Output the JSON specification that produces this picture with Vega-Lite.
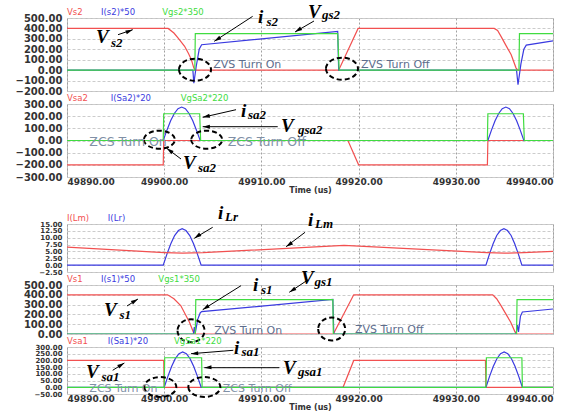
{
"$schema":"https://vega.github.io/schema/vega-lite/v6.json",
"background":"white",
"padding":{"left":14,"top":2,"right":0,"bottom":0},
"config":{
 "view":{"stroke":"#c0c0c0","strokeWidth":1},
 "axis":{"labelFont":"DejaVu Sans","labelFontWeight":"bold","labelFontSize":10,"labelColor":"#333333","ticks":false,"domain":false,"labelPadding":5,"titleFont":"DejaVu Sans","titleFontSize":8,"titleFontWeight":"bold","titleColor":"#333333"},
 "axisY":{"gridColor":"#cccccc","gridDash":[3,2]},
 "axisX":{"gridColor":"#a0a0a0","gridDash":[2,2]}
},
"datasets":{
"lines":[
{"p":1,"s":"Vs2","t":49890,"v":400},{"p":1,"s":"Vs2","t":49900.4,"v":400},{"p":1,"s":"Vs2","t":49901.0,"v":356},{"p":1,"s":"Vs2","t":49901.5,"v":300},{"p":1,"s":"Vs2","t":49902.1,"v":229},{"p":1,"s":"Vs2","t":49902.5,"v":160},{"p":1,"s":"Vs2","t":49902.8,"v":100},{"p":1,"s":"Vs2","t":49903.05,"v":20},{"p":1,"s":"Vs2","t":49903.2,"v":0},{"p":1,"s":"Vs2","t":49917.95,"v":0},{"p":1,"s":"Vs2","t":49919.95,"v":400},{"p":1,"s":"Vs2","t":49933.95,"v":400},{"p":1,"s":"Vs2","t":49934.3,"v":380},{"p":1,"s":"Vs2","t":49934.65,"v":324},{"p":1,"s":"Vs2","t":49935.2,"v":230},{"p":1,"s":"Vs2","t":49935.7,"v":148},{"p":1,"s":"Vs2","t":49936.2,"v":20},{"p":1,"s":"Vs2","t":49936.4,"v":0},{"p":1,"s":"Vs2","t":49940,"v":0},
{"p":1,"s":"I(s2)*50","t":49890,"v":0},{"p":1,"s":"I(s2)*50","t":49902.95,"v":0},{"p":1,"s":"I(s2)*50","t":49903.05,"v":-125},{"p":1,"s":"I(s2)*50","t":49903.3,"v":40},{"p":1,"s":"I(s2)*50","t":49903.6,"v":200},{"p":1,"s":"I(s2)*50","t":49903.85,"v":244},{"p":1,"s":"I(s2)*50","t":49917.85,"v":372},{"p":1,"s":"I(s2)*50","t":49917.95,"v":0},{"p":1,"s":"I(s2)*50","t":49936.25,"v":0},{"p":1,"s":"I(s2)*50","t":49936.4,"v":-140},{"p":1,"s":"I(s2)*50","t":49936.7,"v":60},{"p":1,"s":"I(s2)*50","t":49937.0,"v":200},{"p":1,"s":"I(s2)*50","t":49937.25,"v":240},{"p":1,"s":"I(s2)*50","t":49940,"v":280},
{"p":1,"s":"Vgs2*350","t":49890,"v":0},{"p":1,"s":"Vgs2*350","t":49903.15,"v":0},{"p":1,"s":"Vgs2*350","t":49903.2,"v":350},{"p":1,"s":"Vgs2*350","t":49917.85,"v":350},{"p":1,"s":"Vgs2*350","t":49918.0,"v":0},{"p":1,"s":"Vgs2*350","t":49936.5,"v":0},{"p":1,"s":"Vgs2*350","t":49936.55,"v":350},{"p":1,"s":"Vgs2*350","t":49940,"v":350},
{"p":2,"s":"Vsa2","t":49890,"v":-200},{"p":2,"s":"Vsa2","t":49899.9,"v":-200},{"p":2,"s":"Vsa2","t":49899.95,"v":0},{"p":2,"s":"Vsa2","t":49918.9,"v":0},{"p":2,"s":"Vsa2","t":49920.0,"v":-200},{"p":2,"s":"Vsa2","t":49933.25,"v":-200},{"p":2,"s":"Vsa2","t":49933.3,"v":0},{"p":2,"s":"Vsa2","t":49940,"v":0},
{"p":2,"s":"I(Sa2)*20","t":49890,"v":0},{"p":2,"s":"I(Sa2)*20","t":49899.9,"v":0},{"p":2,"s":"I(Sa2)*20","t":49900.28,"v":85},{"p":2,"s":"I(Sa2)*20","t":49900.66,"v":162},{"p":2,"s":"I(Sa2)*20","t":49901.04,"v":222},{"p":2,"s":"I(Sa2)*20","t":49901.42,"v":262},{"p":2,"s":"I(Sa2)*20","t":49901.8,"v":275},{"p":2,"s":"I(Sa2)*20","t":49902.18,"v":262},{"p":2,"s":"I(Sa2)*20","t":49902.56,"v":222},{"p":2,"s":"I(Sa2)*20","t":49902.94,"v":162},{"p":2,"s":"I(Sa2)*20","t":49903.32,"v":85},{"p":2,"s":"I(Sa2)*20","t":49903.7,"v":0},{"p":2,"s":"I(Sa2)*20","t":49933.3,"v":0},{"p":2,"s":"I(Sa2)*20","t":49933.67,"v":85},{"p":2,"s":"I(Sa2)*20","t":49934.04,"v":162},{"p":2,"s":"I(Sa2)*20","t":49934.41,"v":222},{"p":2,"s":"I(Sa2)*20","t":49934.78,"v":262},{"p":2,"s":"I(Sa2)*20","t":49935.15,"v":275},{"p":2,"s":"I(Sa2)*20","t":49935.52,"v":262},{"p":2,"s":"I(Sa2)*20","t":49935.89,"v":222},{"p":2,"s":"I(Sa2)*20","t":49936.26,"v":162},{"p":2,"s":"I(Sa2)*20","t":49936.63,"v":85},{"p":2,"s":"I(Sa2)*20","t":49937.0,"v":0},{"p":2,"s":"I(Sa2)*20","t":49940,"v":0},
{"p":2,"s":"VgSa2*220","t":49890,"v":0},{"p":2,"s":"VgSa2*220","t":49899.9,"v":0},{"p":2,"s":"VgSa2*220","t":49899.95,"v":220},{"p":2,"s":"VgSa2*220","t":49903.65,"v":220},{"p":2,"s":"VgSa2*220","t":49903.75,"v":0},{"p":2,"s":"VgSa2*220","t":49933.25,"v":0},{"p":2,"s":"VgSa2*220","t":49933.3,"v":220},{"p":2,"s":"VgSa2*220","t":49936.95,"v":220},{"p":2,"s":"VgSa2*220","t":49937.05,"v":0},{"p":2,"s":"VgSa2*220","t":49940,"v":0},
{"p":3,"s":"I(Lr)","t":49890,"v":0},{"p":3,"s":"I(Lr)","t":49899.9,"v":0},{"p":3,"s":"I(Lr)","t":49900.29,"v":4.1},{"p":3,"s":"I(Lr)","t":49900.68,"v":7.8},{"p":3,"s":"I(Lr)","t":49901.07,"v":10.8},{"p":3,"s":"I(Lr)","t":49901.46,"v":12.6},{"p":3,"s":"I(Lr)","t":49901.85,"v":13.3},{"p":3,"s":"I(Lr)","t":49902.24,"v":12.6},{"p":3,"s":"I(Lr)","t":49902.63,"v":10.8},{"p":3,"s":"I(Lr)","t":49903.02,"v":7.8},{"p":3,"s":"I(Lr)","t":49903.41,"v":4.1},{"p":3,"s":"I(Lr)","t":49903.8,"v":0},{"p":3,"s":"I(Lr)","t":49933.1,"v":0},{"p":3,"s":"I(Lr)","t":49933.47,"v":4.1},{"p":3,"s":"I(Lr)","t":49933.84,"v":7.8},{"p":3,"s":"I(Lr)","t":49934.21,"v":10.8},{"p":3,"s":"I(Lr)","t":49934.58,"v":12.6},{"p":3,"s":"I(Lr)","t":49934.95,"v":13.3},{"p":3,"s":"I(Lr)","t":49935.32,"v":12.6},{"p":3,"s":"I(Lr)","t":49935.69,"v":10.8},{"p":3,"s":"I(Lr)","t":49936.06,"v":7.8},{"p":3,"s":"I(Lr)","t":49936.43,"v":4.1},{"p":3,"s":"I(Lr)","t":49936.8,"v":0},{"p":3,"s":"I(Lr)","t":49940,"v":0},
{"p":3,"s":"I(Lm)","t":49890,"v":6.6},{"p":3,"s":"I(Lm)","t":49900,"v":4.6},{"p":3,"s":"I(Lm)","t":49901.9,"v":4.35},{"p":3,"s":"I(Lm)","t":49904,"v":4.55},{"p":3,"s":"I(Lm)","t":49918.5,"v":7.2},{"p":3,"s":"I(Lm)","t":49933.2,"v":4.6},{"p":3,"s":"I(Lm)","t":49935,"v":4.35},{"p":3,"s":"I(Lm)","t":49937,"v":4.55},{"p":3,"s":"I(Lm)","t":49940,"v":5.0},
{"p":4,"s":"Vs1","t":49890,"v":400},{"p":4,"s":"Vs1","t":49900.35,"v":400},{"p":4,"s":"Vs1","t":49901.0,"v":360},{"p":4,"s":"Vs1","t":49901.7,"v":290},{"p":4,"s":"Vs1","t":49902.6,"v":120},{"p":4,"s":"Vs1","t":49903.0,"v":20},{"p":4,"s":"Vs1","t":49903.2,"v":0},{"p":4,"s":"Vs1","t":49917.4,"v":0},{"p":4,"s":"Vs1","t":49919.5,"v":400},{"p":4,"s":"Vs1","t":49933.8,"v":400},{"p":4,"s":"Vs1","t":49934.2,"v":360},{"p":4,"s":"Vs1","t":49934.65,"v":290},{"p":4,"s":"Vs1","t":49935.65,"v":120},{"p":4,"s":"Vs1","t":49936.1,"v":20},{"p":4,"s":"Vs1","t":49936.3,"v":0},{"p":4,"s":"Vs1","t":49940,"v":0},
{"p":4,"s":"I(s1)*50","t":49890,"v":0},{"p":4,"s":"I(s1)*50","t":49903.0,"v":0},{"p":4,"s":"I(s1)*50","t":49903.1,"v":70},{"p":4,"s":"I(s1)*50","t":49903.2,"v":10},{"p":4,"s":"I(s1)*50","t":49903.45,"v":150},{"p":4,"s":"I(s1)*50","t":49903.7,"v":215},{"p":4,"s":"I(s1)*50","t":49903.85,"v":228},{"p":4,"s":"I(s1)*50","t":49917.35,"v":352},{"p":4,"s":"I(s1)*50","t":49917.45,"v":0},{"p":4,"s":"I(s1)*50","t":49936.2,"v":0},{"p":4,"s":"I(s1)*50","t":49936.35,"v":90},{"p":4,"s":"I(s1)*50","t":49936.45,"v":20},{"p":4,"s":"I(s1)*50","t":49936.65,"v":180},{"p":4,"s":"I(s1)*50","t":49936.85,"v":225},{"p":4,"s":"I(s1)*50","t":49940,"v":255},
{"p":4,"s":"Vgs1*350","t":49890,"v":0},{"p":4,"s":"Vgs1*350","t":49903.2,"v":0},{"p":4,"s":"Vgs1*350","t":49903.25,"v":350},{"p":4,"s":"Vgs1*350","t":49917.35,"v":350},{"p":4,"s":"Vgs1*350","t":49917.4,"v":0},{"p":4,"s":"Vgs1*350","t":49936.25,"v":0},{"p":4,"s":"Vgs1*350","t":49936.3,"v":350},{"p":4,"s":"Vgs1*350","t":49940,"v":350},
{"p":5,"s":"Vsa1","t":49890,"v":200},{"p":5,"s":"Vsa1","t":49899.95,"v":200},{"p":5,"s":"Vsa1","t":49900.0,"v":0},{"p":5,"s":"Vsa1","t":49918.4,"v":0},{"p":5,"s":"Vsa1","t":49919.5,"v":200},{"p":5,"s":"Vsa1","t":49933.05,"v":200},{"p":5,"s":"Vsa1","t":49933.1,"v":0},{"p":5,"s":"Vsa1","t":49940,"v":0},
{"p":5,"s":"I(Sa1)*20","t":49890,"v":0},{"p":5,"s":"I(Sa1)*20","t":49900,"v":0},{"p":5,"s":"I(Sa1)*20","t":49900.38,"v":81},{"p":5,"s":"I(Sa1)*20","t":49900.76,"v":155},{"p":5,"s":"I(Sa1)*20","t":49901.14,"v":213},{"p":5,"s":"I(Sa1)*20","t":49901.52,"v":250},{"p":5,"s":"I(Sa1)*20","t":49901.9,"v":263},{"p":5,"s":"I(Sa1)*20","t":49902.28,"v":250},{"p":5,"s":"I(Sa1)*20","t":49902.66,"v":213},{"p":5,"s":"I(Sa1)*20","t":49903.04,"v":155},{"p":5,"s":"I(Sa1)*20","t":49903.42,"v":81},{"p":5,"s":"I(Sa1)*20","t":49903.8,"v":0},{"p":5,"s":"I(Sa1)*20","t":49933.1,"v":0},{"p":5,"s":"I(Sa1)*20","t":49933.475,"v":81},{"p":5,"s":"I(Sa1)*20","t":49933.85,"v":155},{"p":5,"s":"I(Sa1)*20","t":49934.225,"v":213},{"p":5,"s":"I(Sa1)*20","t":49934.6,"v":250},{"p":5,"s":"I(Sa1)*20","t":49934.975,"v":263},{"p":5,"s":"I(Sa1)*20","t":49935.35,"v":250},{"p":5,"s":"I(Sa1)*20","t":49935.725,"v":213},{"p":5,"s":"I(Sa1)*20","t":49936.1,"v":155},{"p":5,"s":"I(Sa1)*20","t":49936.475,"v":81},{"p":5,"s":"I(Sa1)*20","t":49936.85,"v":0},{"p":5,"s":"I(Sa1)*20","t":49940,"v":0},
{"p":5,"s":"VgSa1*220","t":49890,"v":0},{"p":5,"s":"VgSa1*220","t":49900.0,"v":0},{"p":5,"s":"VgSa1*220","t":49900.05,"v":220},{"p":5,"s":"VgSa1*220","t":49903.85,"v":220},{"p":5,"s":"VgSa1*220","t":49903.9,"v":0},{"p":5,"s":"VgSa1*220","t":49933.1,"v":0},{"p":5,"s":"VgSa1*220","t":49933.15,"v":220},{"p":5,"s":"VgSa1*220","t":49936.8,"v":220},{"p":5,"s":"VgSa1*220","t":49936.85,"v":0},{"p":5,"s":"VgSa1*220","t":49940,"v":0}
],
"names":[
{"p":1,"s":"Vs2","t":49890,"v":500},{"p":1,"s":"I(s2)*50","t":49893.5,"v":500},{"p":1,"s":"Vgs2*350","t":49899.8,"v":500},
{"p":2,"s":"Vsa2","t":49890,"v":300},{"p":2,"s":"I(Sa2)*20","t":49894.5,"v":300},{"p":2,"s":"VgSa2*220","t":49901.7,"v":300},
{"p":3,"s":"I(Lm)","t":49890,"v":15},{"p":3,"s":"I(Lr)","t":49894.2,"v":15},
{"p":4,"s":"Vs1","t":49890,"v":500},{"p":4,"s":"I(s1)*50","t":49893.5,"v":500},{"p":4,"s":"Vgs1*350","t":49899.4,"v":500},
{"p":5,"s":"Vsa1","t":49890,"v":300},{"p":5,"s":"I(Sa1)*20","t":49894.2,"v":300},{"p":5,"s":"VgSa1*220","t":49901.0,"v":300}
],
"circles":[
{"p":1,"t":49903.17,"v":4.3},{"p":1,"t":49918.29,"v":14},
{"p":2,"t":49899.5,"v":6.6},{"p":2,"t":49904.37,"v":6.6},
{"p":4,"t":49902.76,"v":33.7},{"p":4,"t":49917.23,"v":51},
{"p":5,"t":49899.6,"v":2.1},{"p":5,"t":49904.13,"v":2.1}
],
"arrows":[
{"p":1,"t2":49895.25,"v2":339.9,"t":49896.76,"v":387.8,"dir":"ur"},{"p":1,"t2":49909.1,"v2":516,"t":49905.15,"v":276.6,"dir":"dl"},{"p":1,"t2":49915.41,"v2":471.2,"t":49913.46,"v":365.8,"dir":"dl"},
{"p":2,"t2":49907.39,"v2":253.2,"t":49903.96,"v":190.7,"dir":"dll"},{"p":2,"t2":49911.68,"v2":113.4,"t":49903.96,"v":113.4,"dir":"l"},{"p":2,"t2":49901.73,"v2":-152,"t":49900.26,"v":-64.1,"dir":"ul"},
{"p":3,"t2":49904.99,"v2":13.8,"t":49903.1,"v":9.79,"dir":"dl"},{"p":3,"t2":49914.49,"v2":11.97,"t":49912.53,"v":6.72,"dir":"dl"},
{"p":4,"t2":49896.17,"v2":285.7,"t":49897.3,"v":357.1,"dir":"ur"},{"p":4,"t2":49907.9,"v2":492.9,"t":49903.96,"v":248,"dir":"dl"},{"p":4,"t2":49914.76,"v2":551,"t":49912.87,"v":425.5,"dir":"dl"},
{"p":5,"t2":49907.11,"v2":275.4,"t":49902.76,"v":250.1,"dir":"l"},{"p":5,"t2":49911.84,"v2":145.9,"t":49904.13,"v":145.9,"dir":"l"},{"p":5,"t2":49894.7,"v2":126.5,"t":49895.9,"v":180.8,"dir":"ur"}
],
"mainlab":[
{"p":1,"txt":"V","t":49892.98,"v":260.3},{"p":1,"txt":"i","t":49909.65,"v":452},{"p":1,"txt":"V","t":49914.79,"v":500},
{"p":2,"txt":"i","t":49907.9,"v":193.2},{"p":2,"txt":"V","t":49912.02,"v":69.9},{"p":2,"txt":"V","t":49901.93,"v":-234.2},
{"p":3,"txt":"i","t":49905.53,"v":16.82},{"p":3,"txt":"i","t":49914.79,"v":14.38},
{"p":4,"txt":"V","t":49893.81,"v":186.7},{"p":4,"txt":"i","t":49909.14,"v":441.8},{"p":4,"txt":"V","t":49914.07,"v":510.2},
{"p":5,"txt":"i","t":49907.18,"v":250.1},{"p":5,"txt":"V","t":49912.22,"v":101.2},{"p":5,"txt":"V","t":49891.95,"v":66}
],
"sublab":[
{"p":1,"txt":"s2","t":49894.53,"v":221.9},{"p":1,"txt":"s2","t":49910.52,"v":423.3},{"p":1,"txt":"gs2","t":49916.23,"v":490.4},
{"p":2,"txt":"sa2","t":49908.62,"v":176.7},{"p":2,"txt":"gsa2","t":49913.77,"v":53.4},{"p":2,"txt":"sa2","t":49903.48,"v":-258.9},
{"p":3,"txt":"Lr","t":49906.26,"v":16.09},{"p":3,"txt":"Lm","t":49915.51,"v":13.54},
{"p":4,"txt":"s1","t":49895.4,"v":153.1},{"p":4,"txt":"s1","t":49909.96,"v":408.2},{"p":4,"txt":"gs1","t":49915.46,"v":484.7},
{"p":5,"txt":"sa1","t":49907.95,"v":233},{"p":5,"txt":"gsa1","t":49913.77,"v":84},{"p":5,"txt":"sa1","t":49893.55,"v":50}
],
"notes":[
{"p":1,"txt":"ZVS Turn On","t":49905.05,"v":52},{"p":1,"txt":"ZVS Turn Off","t":49920.25,"v":52},
{"p":2,"txt":"ZCS Turn On","t":49892.3,"v":-14.8},{"p":2,"txt":"ZCS Turn Off","t":49906.53,"v":-14.8},
{"p":4,"txt":"ZVS Turn On","t":49905.15,"v":33.7},{"p":4,"txt":"ZVS Turn Off","t":49919.63,"v":40.8},
{"p":5,"txt":"ZCS Turn On","t":49892.3,"v":-12},{"p":5,"txt":"ZCS Turn Off","t":49906.02,"v":-12}
]
},
"vconcat":[
{"width":486,"height":73,
 "encoding":{"x":{"field":"t","type":"quantitative","scale":{"domain":[49890,49940],"nice":false,"zero":false},"axis":{"values":[49890,49900,49910,49920,49930,49940],"labels":false,"title":null}},
  "y":{"field":"v","type":"quantitative","scale":{"domain":[-200,500],"nice":false,"zero":false},"axis":{"values":[-200,-100,0,100,200,300,400,500],"format":".2f","title":null,"labelOverlap":false}}},
 "layer":[
  {"data":{"name":"lines"},"transform":[{"filter":"datum.p==1"}],"mark":{"type":"line","strokeWidth":1.2,"clip":true},"encoding":{"color":{"field":"s","type":"nominal","legend":null,"scale":{"domain":["Vs2","I(s2)*50","Vgs2*350","Vsa2","I(Sa2)*20","VgSa2*220","I(Lm)","I(Lr)","Vs1","I(s1)*50","Vgs1*350","Vsa1","I(Sa1)*20","VgSa1*220"],"range":["#f25050","#3a3ae0","#40dc40","#f25050","#3a3ae0","#40dc40","#f25050","#3a3ae0","#f25050","#3a3ae0","#40dc40","#f25050","#3a3ae0","#40dc40"]}}}},
  {"data":{"name":"names"},"transform":[{"filter":"datum.p==1"}],"mark":{"type":"text","align":"left","baseline":"bottom","dy":-1,"font":"DejaVu Sans","fontSize":8.5},"encoding":{"text":{"field":"s"},"color":{"field":"s","type":"nominal","legend":null,"scale":{"domain":["Vs2","I(s2)*50","Vgs2*350","Vsa2","I(Sa2)*20","VgSa2*220","I(Lm)","I(Lr)","Vs1","I(s1)*50","Vgs1*350","Vsa1","I(Sa1)*20","VgSa1*220"],"range":["#f25050","#3a3ae0","#40dc40","#f25050","#3a3ae0","#40dc40","#f25050","#3a3ae0","#f25050","#3a3ae0","#40dc40","#f25050","#3a3ae0","#40dc40"]}}}},
  {"data":{"name":"circles"},"transform":[{"filter":"datum.p==1"}],"mark":{"type":"point","shape":"M-1,0A1,0.69,0,1,0,1,0A1,0.69,0,1,0,-1,0Z","size":1024,"filled":false,"stroke":"black","strokeWidth":2,"strokeDash":[5,3],"opacity":1}},
  {"data":{"name":"arrows"},"transform":[{"filter":"datum.p==1"}],"mark":{"type":"rule","color":"black","strokeWidth":1},"encoding":{"x2":{"field":"t2"},"y2":{"field":"v2"}}},
  {"data":{"name":"arrows"},"transform":[{"filter":"datum.p==1 && datum.dir=='ur'"}],"mark":{"type":"point","shape":"M0,0L-0.45,1.6L0.45,1.6Z","size":80,"filled":true,"color":"black","opacity":1,"angle":68}},
  {"data":{"name":"arrows"},"transform":[{"filter":"datum.p==1 && datum.dir=='dl'"}],"mark":{"type":"point","shape":"M0,0L-0.45,1.6L0.45,1.6Z","size":80,"filled":true,"color":"black","opacity":1,"angle":238}},
  {"data":{"name":"mainlab"},"transform":[{"filter":"datum.p==1"}],"mark":{"type":"text","align":"left","baseline":"alphabetic","font":"Liberation Serif","fontStyle":"italic","fontWeight":"bold","fontSize":19,"color":"black"},"encoding":{"text":{"field":"txt"}}},
  {"data":{"name":"sublab"},"transform":[{"filter":"datum.p==1"}],"mark":{"type":"text","align":"left","baseline":"alphabetic","font":"Liberation Serif","fontStyle":"italic","fontWeight":"bold","fontSize":13,"color":"black"},"encoding":{"text":{"field":"txt"}}},
  {"data":{"name":"notes"},"transform":[{"filter":"datum.p==1"}],"mark":{"type":"text","align":"left","baseline":"middle","font":"DejaVu Sans","fontSize":11,"color":"#5d6d8d"},"encoding":{"text":{"field":"txt"}}}
 ]},
{"width":486,"height":73,
 "encoding":{"x":{"field":"t","type":"quantitative","scale":{"domain":[49890,49940],"nice":false,"zero":false},"axis":{"values":[49890,49900,49910,49920,49930,49940],"format":".2f","labelPadding":0,"labelFontSize":9,"title":"Time (us)","titlePadding":0,"labelOverlap":false}},
  "y":{"field":"v","type":"quantitative","scale":{"domain":[-300,300],"nice":false,"zero":false},"axis":{"values":[-300,-200,-100,0,100,200,300],"format":".2f","title":null,"labelOverlap":false}}},
 "layer":[
  {"data":{"name":"lines"},"transform":[{"filter":"datum.p==2"}],"mark":{"type":"line","strokeWidth":1.2,"clip":true},"encoding":{"color":{"field":"s","type":"nominal","legend":null,"scale":{"domain":["Vs2","I(s2)*50","Vgs2*350","Vsa2","I(Sa2)*20","VgSa2*220","I(Lm)","I(Lr)","Vs1","I(s1)*50","Vgs1*350","Vsa1","I(Sa1)*20","VgSa1*220"],"range":["#f25050","#3a3ae0","#40dc40","#f25050","#3a3ae0","#40dc40","#f25050","#3a3ae0","#f25050","#3a3ae0","#40dc40","#f25050","#3a3ae0","#40dc40"]}}}},
  {"data":{"name":"names"},"transform":[{"filter":"datum.p==2"}],"mark":{"type":"text","align":"left","baseline":"bottom","dy":-1,"font":"DejaVu Sans","fontSize":8.5},"encoding":{"text":{"field":"s"},"color":{"field":"s","type":"nominal","legend":null,"scale":{"domain":["Vs2","I(s2)*50","Vgs2*350","Vsa2","I(Sa2)*20","VgSa2*220","I(Lm)","I(Lr)","Vs1","I(s1)*50","Vgs1*350","Vsa1","I(Sa1)*20","VgSa1*220"],"range":["#f25050","#3a3ae0","#40dc40","#f25050","#3a3ae0","#40dc40","#f25050","#3a3ae0","#f25050","#3a3ae0","#40dc40","#f25050","#3a3ae0","#40dc40"]}}}},
  {"data":{"name":"circles"},"transform":[{"filter":"datum.p==2"}],"mark":{"type":"point","shape":"M-1,0A1,0.58,0,1,0,1,0A1,0.58,0,1,0,-1,0Z","size":961,"filled":false,"stroke":"black","strokeWidth":2,"strokeDash":[5,3],"opacity":1}},
  {"data":{"name":"arrows"},"transform":[{"filter":"datum.p==2"}],"mark":{"type":"rule","color":"black","strokeWidth":1},"encoding":{"x2":{"field":"t2"},"y2":{"field":"v2"}}},
  {"data":{"name":"arrows"},"transform":[{"filter":"datum.p==2 && datum.dir=='dll'"}],"mark":{"type":"point","shape":"M0,0L-0.45,1.6L0.45,1.6Z","size":80,"filled":true,"color":"black","opacity":1,"angle":257}},
  {"data":{"name":"arrows"},"transform":[{"filter":"datum.p==2 && datum.dir=='l'"}],"mark":{"type":"point","shape":"M0,0L-0.45,1.6L0.45,1.6Z","size":80,"filled":true,"color":"black","opacity":1,"angle":270}},
  {"data":{"name":"arrows"},"transform":[{"filter":"datum.p==2 && datum.dir=='ul'"}],"mark":{"type":"point","shape":"M0,0L-0.45,1.6L0.45,1.6Z","size":80,"filled":true,"color":"black","opacity":1,"angle":307}},
  {"data":{"name":"mainlab"},"transform":[{"filter":"datum.p==2"}],"mark":{"type":"text","align":"left","baseline":"alphabetic","font":"Liberation Serif","fontStyle":"italic","fontWeight":"bold","fontSize":19,"color":"black"},"encoding":{"text":{"field":"txt"}}},
  {"data":{"name":"sublab"},"transform":[{"filter":"datum.p==2"}],"mark":{"type":"text","align":"left","baseline":"alphabetic","font":"Liberation Serif","fontStyle":"italic","fontWeight":"bold","fontSize":13,"color":"black"},"encoding":{"text":{"field":"txt"}}},
  {"data":{"name":"notes"},"transform":[{"filter":"datum.p==2"}],"mark":{"type":"text","align":"left","baseline":"middle","font":"DejaVu Sans","fontSize":12.5,"color":"#8090a6"},"encoding":{"text":{"field":"txt"}}}
 ]},
{"width":486,"height":21,"view":{"stroke":null},"data":{"values":[{"k":0}]},"mark":{"type":"point","opacity":0}},
{"width":486,"height":48,
 "encoding":{"x":{"field":"t","type":"quantitative","scale":{"domain":[49890,49940],"nice":false,"zero":false},"axis":{"values":[49890,49900,49910,49920,49930,49940],"labels":false,"title":null}},
  "y":{"field":"v","type":"quantitative","scale":{"domain":[-2.5,15],"nice":false,"zero":false},"axis":{"values":[-2.5,0,2.5,5,7.5,10,12.5,15],"format":".2f","title":null,"labelOverlap":false,"labelFontSize":7}}},
 "layer":[
  {"data":{"name":"lines"},"transform":[{"filter":"datum.p==3"}],"mark":{"type":"line","strokeWidth":1.2,"clip":true},"encoding":{"color":{"field":"s","type":"nominal","legend":null,"scale":{"domain":["Vs2","I(s2)*50","Vgs2*350","Vsa2","I(Sa2)*20","VgSa2*220","I(Lm)","I(Lr)","Vs1","I(s1)*50","Vgs1*350","Vsa1","I(Sa1)*20","VgSa1*220"],"range":["#f25050","#3a3ae0","#40dc40","#f25050","#3a3ae0","#40dc40","#f25050","#3a3ae0","#f25050","#3a3ae0","#40dc40","#f25050","#3a3ae0","#40dc40"]}}}},
  {"data":{"name":"names"},"transform":[{"filter":"datum.p==3"}],"mark":{"type":"text","align":"left","baseline":"bottom","dy":-1,"font":"DejaVu Sans","fontSize":8.5},"encoding":{"text":{"field":"s"},"color":{"field":"s","type":"nominal","legend":null,"scale":{"domain":["Vs2","I(s2)*50","Vgs2*350","Vsa2","I(Sa2)*20","VgSa2*220","I(Lm)","I(Lr)","Vs1","I(s1)*50","Vgs1*350","Vsa1","I(Sa1)*20","VgSa1*220"],"range":["#f25050","#3a3ae0","#40dc40","#f25050","#3a3ae0","#40dc40","#f25050","#3a3ae0","#f25050","#3a3ae0","#40dc40","#f25050","#3a3ae0","#40dc40"]}}}},
  {"data":{"name":"arrows"},"transform":[{"filter":"datum.p==3"}],"mark":{"type":"rule","color":"black","strokeWidth":1},"encoding":{"x2":{"field":"t2"},"y2":{"field":"v2"}}},
  {"data":{"name":"arrows"},"transform":[{"filter":"datum.p==3 && datum.dir=='dl'"}],"mark":{"type":"point","shape":"M0,0L-0.45,1.6L0.45,1.6Z","size":80,"filled":true,"color":"black","opacity":1,"angle":236}},
  {"data":{"name":"mainlab"},"transform":[{"filter":"datum.p==3"}],"mark":{"type":"text","align":"left","baseline":"alphabetic","font":"Liberation Serif","fontStyle":"italic","fontWeight":"bold","fontSize":19,"color":"black"},"encoding":{"text":{"field":"txt"}}},
  {"data":{"name":"sublab"},"transform":[{"filter":"datum.p==3"}],"mark":{"type":"text","align":"left","baseline":"alphabetic","font":"Liberation Serif","fontStyle":"italic","fontWeight":"bold","fontSize":13,"color":"black"},"encoding":{"text":{"field":"txt"}}}
 ]},
{"width":486,"height":49,
 "encoding":{"x":{"field":"t","type":"quantitative","scale":{"domain":[49890,49940],"nice":false,"zero":false},"axis":{"values":[49890,49900,49910,49920,49930,49940],"labels":false,"title":null}},
  "y":{"field":"v","type":"quantitative","scale":{"domain":[0,500],"nice":false,"zero":false},"axis":{"values":[0,100,200,300,400,500],"format":".2f","title":null,"labelOverlap":false}}},
 "layer":[
  {"data":{"name":"lines"},"transform":[{"filter":"datum.p==4"}],"mark":{"type":"line","strokeWidth":1.2,"clip":true},"encoding":{"color":{"field":"s","type":"nominal","legend":null,"scale":{"domain":["Vs2","I(s2)*50","Vgs2*350","Vsa2","I(Sa2)*20","VgSa2*220","I(Lm)","I(Lr)","Vs1","I(s1)*50","Vgs1*350","Vsa1","I(Sa1)*20","VgSa1*220"],"range":["#f25050","#3a3ae0","#40dc40","#f25050","#3a3ae0","#40dc40","#f25050","#3a3ae0","#f25050","#3a3ae0","#40dc40","#f25050","#3a3ae0","#40dc40"]}}}},
  {"data":{"name":"names"},"transform":[{"filter":"datum.p==4"}],"mark":{"type":"text","align":"left","baseline":"bottom","dy":-1,"font":"DejaVu Sans","fontSize":8.5},"encoding":{"text":{"field":"s"},"color":{"field":"s","type":"nominal","legend":null,"scale":{"domain":["Vs2","I(s2)*50","Vgs2*350","Vsa2","I(Sa2)*20","VgSa2*220","I(Lm)","I(Lr)","Vs1","I(s1)*50","Vgs1*350","Vsa1","I(Sa1)*20","VgSa1*220"],"range":["#f25050","#3a3ae0","#40dc40","#f25050","#3a3ae0","#40dc40","#f25050","#3a3ae0","#f25050","#3a3ae0","#40dc40","#f25050","#3a3ae0","#40dc40"]}}}},
  {"data":{"name":"circles"},"transform":[{"filter":"datum.p==4"}],"mark":{"type":"point","shape":"M-1,0A1,0.85,0,1,0,1,0A1,0.85,0,1,0,-1,0Z","size":729,"filled":false,"stroke":"black","strokeWidth":2,"strokeDash":[5,3],"opacity":1}},
  {"data":{"name":"arrows"},"transform":[{"filter":"datum.p==4"}],"mark":{"type":"rule","color":"black","strokeWidth":1},"encoding":{"x2":{"field":"t2"},"y2":{"field":"v2"}}},
  {"data":{"name":"arrows"},"transform":[{"filter":"datum.p==4 && datum.dir=='ur'"}],"mark":{"type":"point","shape":"M0,0L-0.45,1.6L0.45,1.6Z","size":80,"filled":true,"color":"black","opacity":1,"angle":58}},
  {"data":{"name":"arrows"},"transform":[{"filter":"datum.p==4 && datum.dir=='dl'"}],"mark":{"type":"point","shape":"M0,0L-0.45,1.6L0.45,1.6Z","size":80,"filled":true,"color":"black","opacity":1,"angle":237}},
  {"data":{"name":"mainlab"},"transform":[{"filter":"datum.p==4"}],"mark":{"type":"text","align":"left","baseline":"alphabetic","font":"Liberation Serif","fontStyle":"italic","fontWeight":"bold","fontSize":19,"color":"black"},"encoding":{"text":{"field":"txt"}}},
  {"data":{"name":"sublab"},"transform":[{"filter":"datum.p==4"}],"mark":{"type":"text","align":"left","baseline":"alphabetic","font":"Liberation Serif","fontStyle":"italic","fontWeight":"bold","fontSize":13,"color":"black"},"encoding":{"text":{"field":"txt"}}},
  {"data":{"name":"notes"},"transform":[{"filter":"datum.p==4"}],"mark":{"type":"text","align":"left","baseline":"middle","font":"DejaVu Sans","fontSize":11,"color":"#5d6d8d"},"encoding":{"text":{"field":"txt"}}}
 ]},
{"width":486,"height":47,
 "encoding":{"x":{"field":"t","type":"quantitative","scale":{"domain":[49890,49940],"nice":false,"zero":false},"axis":{"values":[49890,49900,49910,49920,49930,49940],"format":".2f","labelPadding":0,"labelFontSize":9,"title":"Time (us)","titlePadding":0,"labelOverlap":false}},
  "y":{"field":"v","type":"quantitative","scale":{"domain":[-50,300],"nice":false,"zero":false},"axis":{"values":[-50,0,50,100,150,200,250,300],"format":".2f","title":null,"labelOverlap":false,"labelFontSize":7}}},
 "layer":[
  {"data":{"name":"lines"},"transform":[{"filter":"datum.p==5"}],"mark":{"type":"line","strokeWidth":1.2,"clip":true},"encoding":{"color":{"field":"s","type":"nominal","legend":null,"scale":{"domain":["Vs2","I(s2)*50","Vgs2*350","Vsa2","I(Sa2)*20","VgSa2*220","I(Lm)","I(Lr)","Vs1","I(s1)*50","Vgs1*350","Vsa1","I(Sa1)*20","VgSa1*220"],"range":["#f25050","#3a3ae0","#40dc40","#f25050","#3a3ae0","#40dc40","#f25050","#3a3ae0","#f25050","#3a3ae0","#40dc40","#f25050","#3a3ae0","#40dc40"]}}}},
  {"data":{"name":"names"},"transform":[{"filter":"datum.p==5"}],"mark":{"type":"text","align":"left","baseline":"bottom","dy":-1,"font":"DejaVu Sans","fontSize":8.5},"encoding":{"text":{"field":"s"},"color":{"field":"s","type":"nominal","legend":null,"scale":{"domain":["Vs2","I(s2)*50","Vgs2*350","Vsa2","I(Sa2)*20","VgSa2*220","I(Lm)","I(Lr)","Vs1","I(s1)*50","Vgs1*350","Vsa1","I(Sa1)*20","VgSa1*220"],"range":["#f25050","#3a3ae0","#40dc40","#f25050","#3a3ae0","#40dc40","#f25050","#3a3ae0","#f25050","#3a3ae0","#40dc40","#f25050","#3a3ae0","#40dc40"]}}}},
  {"data":{"name":"circles"},"transform":[{"filter":"datum.p==5"}],"mark":{"type":"point","shape":"M-1,0A1,0.62,0,1,0,1,0A1,0.62,0,1,0,-1,0Z","size":1024,"filled":false,"stroke":"black","strokeWidth":2,"strokeDash":[5,3],"opacity":1}},
  {"data":{"name":"arrows"},"transform":[{"filter":"datum.p==5"}],"mark":{"type":"rule","color":"black","strokeWidth":1},"encoding":{"x2":{"field":"t2"},"y2":{"field":"v2"}}},
  {"data":{"name":"arrows"},"transform":[{"filter":"datum.p==5 && datum.dir=='l'"}],"mark":{"type":"point","shape":"M0,0L-0.45,1.6L0.45,1.6Z","size":80,"filled":true,"color":"black","opacity":1,"angle":267}},
  {"data":{"name":"arrows"},"transform":[{"filter":"datum.p==5 && datum.dir=='ur'"}],"mark":{"type":"point","shape":"M0,0L-0.45,1.6L0.45,1.6Z","size":80,"filled":true,"color":"black","opacity":1,"angle":58}},
  {"data":{"name":"mainlab"},"transform":[{"filter":"datum.p==5"}],"mark":{"type":"text","align":"left","baseline":"alphabetic","font":"Liberation Serif","fontStyle":"italic","fontWeight":"bold","fontSize":19,"color":"black"},"encoding":{"text":{"field":"txt"}}},
  {"data":{"name":"sublab"},"transform":[{"filter":"datum.p==5"}],"mark":{"type":"text","align":"left","baseline":"alphabetic","font":"Liberation Serif","fontStyle":"italic","fontWeight":"bold","fontSize":13,"color":"black"},"encoding":{"text":{"field":"txt"}}},
  {"data":{"name":"notes"},"transform":[{"filter":"datum.p==5"}],"mark":{"type":"text","align":"left","baseline":"middle","font":"DejaVu Sans","fontSize":11,"color":"#8090a6"},"encoding":{"text":{"field":"txt"}}}
 ]}
],
"spacing":13,
"bounds":"flush"
}
